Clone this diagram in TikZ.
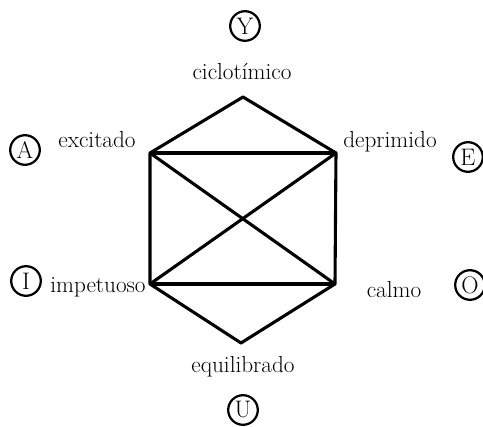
\documentclass[tikz,border=0pt]{standalone}
\usepackage{tikz}

\begin{document}
\begin{tikzpicture}[x=0.025cm, y=-0.025cm]
    \tikzstyle{v} += [inner sep=0pt, minimum size=0pt];
    \tikzstyle{lbl} += [font=\fontsize{16.5}{19}\selectfont];
    \tikzstyle{let} += [circle, draw=black, line width=1.6pt, minimum size=0.74cm,
                        inner sep=0pt, font=\fontsize{17}{19}\selectfont];
    \useasboundingbox (0,0) rectangle (483,427);

    \node (h_1) at (243,  97) [v] {};
    \node (h_2) at (150, 153) [v] {};
    \node (h_3) at (336, 153) [v] {};
    \node (h_4) at (150, 284) [v] {};
    \node (h_5) at (335, 284) [v] {};
    \node (h_6) at (241, 343) [v] {};

    \node (c_y) at (245,  26) [let] {Y};
    \node (c_a) at ( 25, 150) [let] {A};
    \node (c_e) at (468, 157) [let] {E};
    \node (c_i) at ( 26, 281) [let] {I};
    \node (c_o) at (470, 285) [let] {O};
    \node (c_u) at (243, 410) [let] {U};

    \node (t_y) at (242,  72) [lbl] {ciclot\'{\i}mico};
    \node (t_a) at ( 97, 140) [lbl] {excitado};
    \node (t_e) at (390, 142) [lbl] {deprimido};
    \node (t_i) at ( 98, 287) [lbl] {impetuoso};
    \node (t_o) at (394, 290) [lbl] {calmo};
    \node (t_u) at (243, 367) [lbl] {equilibrado};

    \begin{scope}[line width=2.2pt, line join=round]
      \draw (h_1.center) -- (h_2.center) -- (h_4.center) -- (h_6.center)
            -- (h_5.center) -- (h_3.center) -- cycle;
      \draw (h_2.center) -- (h_3.center);
      \draw (h_4.center) -- (h_5.center);
      \draw (h_2.center) -- (h_5.center);
      \draw (h_3.center) -- (h_4.center);
    \end{scope}
  \end{tikzpicture}
\end{document}
